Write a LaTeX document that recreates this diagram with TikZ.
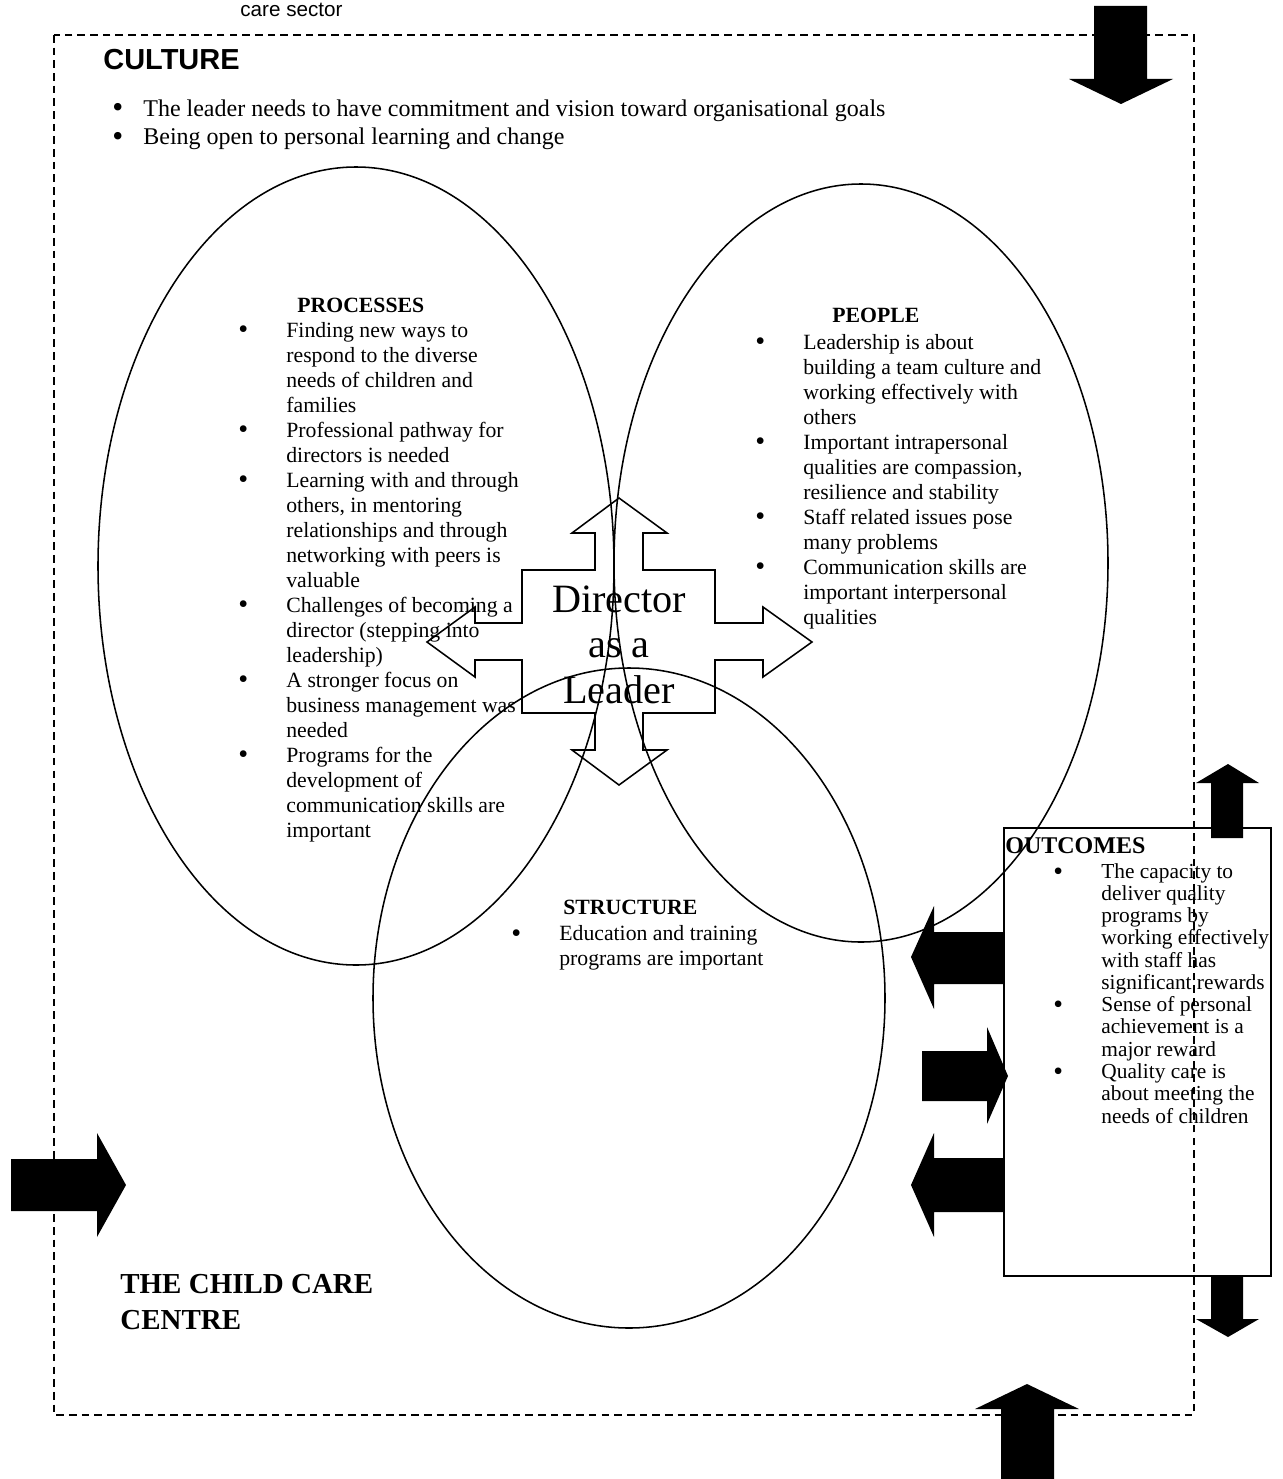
\documentclass[tikz,border=0pt]{standalone}
\usepackage{fontspec}
\setmainfont{Liberation Serif}
\newfontfamily\arialfont{Liberation Sans}
% a slightly heavier bullet than the font's own, kept at x-height middle
\newcommand\bul{\smash{\raisebox{-1.1pt}{\scalebox{1.3}{\textbullet}}}}
% bullet list: fixed-width bullet column, then the text lines
\newcommand\bitems[2]{\begin{tabular}[t]{@{}p{#1}@{}l@{}}#2\end{tabular}}

\begin{document}
\begin{tikzpicture}[x=0.552pt,y=-0.552pt,
  frame/.style={draw=black, line width=0.8pt, dash pattern=on 4.2pt off 2.8pt},
  outline/.style={draw=black, line width=0.85pt},
  blockarrow/.style={fill=black, draw=none},
  body/.style={inner sep=0pt, anchor=base west, font=\fontsize{12}{13.8}\selectfont},
  small/.style={inner sep=0pt, anchor=base west, font=\fontsize{11.8}{12.3}\selectfont},
  heading/.style={inner sep=0pt, anchor=base west, font=\bfseries\fontsize{12}{13.8}\selectfont},
  big/.style={inner sep=0pt, anchor=base, font=\fontsize{22.2}{25}\selectfont},
]
\useasboundingbox (0,0) rectangle (1283,1479);

% the child care centre boundary
\draw[frame] (54,35) rectangle (1194,1415);

% three overlapping areas
\draw[outline] (356,566) ellipse [x radius=258, y radius=399];
\draw[outline] (861,563) ellipse [x radius=247, y radius=379];
\draw[outline] (629,998) ellipse [x radius=256, y radius=330];

% four-way arrow in the middle
\draw[outline, line join=miter]
  (619,498) -- (667,533) -- (643,533) -- (643,570) -- (715,570) -- (715,623)
  -- (763,623) -- (763,607) -- (812,642) -- (763,677) -- (763,660) -- (715,660)
  -- (715,713) -- (643,713) -- (643,750) -- (667,750) -- (619,785) -- (572,750)
  -- (595,750) -- (595,713) -- (522,713) -- (522,660) -- (475,660) -- (475,677)
  -- (427,642) -- (475,607) -- (475,623) -- (522,623) -- (522,570) -- (595,570)
  -- (595,533) -- (572,533) -- cycle;

% outcomes box
\draw[outline] (1004,828) rectangle (1271,1276);

% solid block arrows
\fill[blockarrow] (1094,6) -- (1147,6) -- (1147,79) -- (1173,79) -- (1121,104) -- (1069,79) -- (1094,79) -- cycle;
\fill[blockarrow] (11,1159) -- (97,1159) -- (97,1133) -- (126,1185) -- (97,1237) -- (97,1211) -- (11,1211) -- cycle;
\fill[blockarrow] (1004,932) -- (934,932) -- (934,906) -- (911,957) -- (934,1009) -- (934,984) -- (1004,984) -- cycle;
\fill[blockarrow] (922,1051) -- (987,1051) -- (987,1027) -- (1008,1076) -- (987,1124) -- (987,1101) -- (922,1101) -- cycle;
\fill[blockarrow] (1004,1158) -- (934,1158) -- (934,1133) -- (911,1185) -- (934,1237) -- (934,1212) -- (1004,1212) -- cycle;
\fill[blockarrow] (1211,838) -- (1211,783) -- (1196,783) -- (1228,764) -- (1259,783) -- (1243,783) -- (1243,838) -- cycle;
\fill[blockarrow] (1211,1276) -- (1211,1319) -- (1196,1319) -- (1228,1337) -- (1259,1319) -- (1243,1319) -- (1243,1276) -- cycle;
\fill[blockarrow] (1001,1479) -- (1001,1409) -- (975,1409) -- (1027,1384) -- (1079,1409) -- (1054,1409) -- (1054,1479) -- cycle;

% texts
\node[inner sep=0pt, anchor=base west, font=\arialfont\fontsize{11.4}{13}\selectfont] (sector) at (240,17) {care sector};
\node[inner sep=0pt, anchor=base west, font=\arialfont\bfseries\fontsize{16}{19}\selectfont] (culture) at (103,70) {CULTURE};
\node[inner sep=0pt, anchor=base west, font=\fontsize{13.25}{16}\selectfont] (culturelist) at (112,116)
  {\bitems{17.1pt}{\bul & The leader needs to have commitment and vision toward organisational goals\\
   \bul & Being open to personal learning and change}};

\node[heading] (processes) at (297,312) {PROCESSES};
\node[body] (processlist) at (238,337) {\bitems{26.5pt}{%
  \bul & Finding new ways to\\
   & respond to the diverse\\
   & needs of children and\\
   & families\\
  \bul & Professional pathway for\\
   & directors is needed\\
  \bul & Learning with and through\\
   & others, in mentoring\\
   & relationships and through\\
   & networking with peers is\\
   & valuable\\
  \bul & Challenges of becoming a\\
   & director (stepping into\\
   & leadership)\\
  \bul & A stronger focus on\\
   & business management was\\
   & needed\\
  \bul & Programs for the\\
   & development of\\
   & communication skills are\\
   & important}};

\node[heading] (people) at (832,322) {PEOPLE};
\node[body] (peoplelist) at (755,349) {\bitems{26.5pt}{%
  \bul & Leadership is about\\
   & building a team culture and\\
   & working effectively with\\
   & others\\
  \bul & Important intrapersonal\\
   & qualities are compassion,\\
   & resilience and stability\\
  \bul & Staff related issues pose\\
   & many problems\\
  \bul & Communication skills are\\
   & important interpersonal\\
   & qualities}};

\node[heading] (structure) at (563,914) {STRUCTURE};
\node[body] (structurelist) at (511,940) {\bitems{26.5pt}{%
  \bul & Education and training\\
   & programs are important}};

\node[big] (dir1) at (619,612) {Director};
\node[big] (dir2) at (619,657) {as a};
\node[big] (dir3) at (619,703) {Leader};

\node[inner sep=0pt, anchor=base west, font=\bfseries\fontsize{13.25}{15}\selectfont] (outcomes) at (1005,853) {OUTCOMES};
\node[small] (outcomelist) at (1053,878) {\bitems{26.5pt}{%
  \bul & The capacity to\\
   & deliver quality\\
   & programs by\\
   & working effectively\\
   & with staff has\\
   & significant rewards\\
  \bul & Sense of personal\\
   & achievement is a\\
   & major reward\\
  \bul & Quality care is\\
   & about meeting the\\
   & needs of children}};

\node[inner sep=0pt, anchor=base west, font=\bfseries\fontsize{16}{19.9}\selectfont] (centre) at (120,1293)
  {\begin{tabular}[t]{@{}l@{}}THE CHILD CARE\\ CENTRE\end{tabular}};
\end{tikzpicture}
\end{document}
